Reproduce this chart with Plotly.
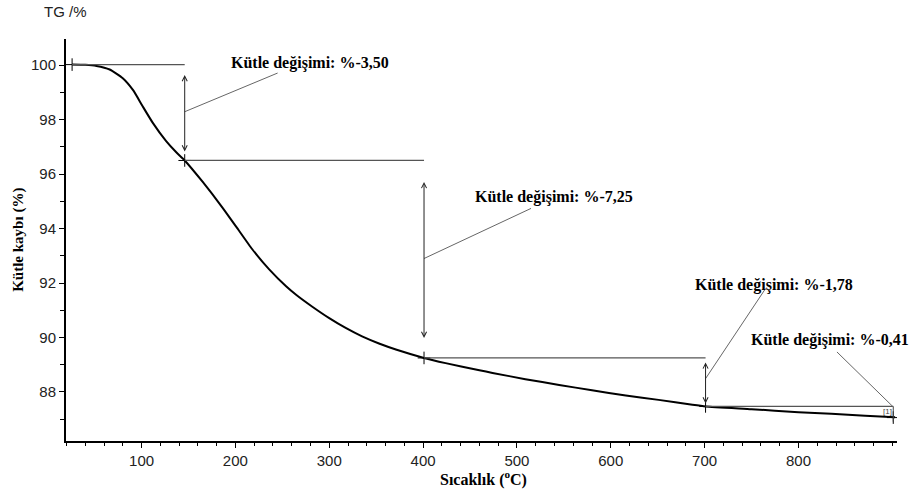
import plotly.graph_objects as go

# ---- data ----
temperature = [26, 40, 52, 66, 80, 91, 101, 112, 126, 137, 146, 165, 186, 201, 218,
               236, 254, 265, 282, 300, 318, 335, 353, 371, 401, 424, 460, 474, 509,
               545, 580, 616, 651, 687, 701, 750, 800, 835, 871, 903]
mass_pct = [100.02, 100.01, 99.97, 99.84, 99.52, 99.08, 98.50, 97.88, 97.22, 96.80,
            96.50, 95.72, 94.78, 94.06, 93.24, 92.50, 91.88, 91.56, 91.13, 90.71,
            90.34, 90.04, 89.78, 89.56, 89.25, 89.06, 88.80, 88.70, 88.47, 88.26,
            88.06, 87.87, 87.71, 87.53, 87.47, 87.37, 87.26, 87.20, 87.13, 87.07]

step_temps = [26, 146, 401, 701, 901]
step_mass = [100.02, 96.50, 89.25, 87.47, 87.06]
step_labels = ["Kütle değişimi: %-3,50", "Kütle değişimi: %-7,25",
               "Kütle değişimi: %-1,78", "Kütle değişimi: %-0,41"]

x_ticks = [100, 200, 300, 400, 500, 600, 700, 800]
y_ticks = [88, 90, 92, 94, 96, 98, 100]

# ---- layout constants (positions of labels / leaders) ----
label_pos = [(279, 100.07), (539, 95.17), (774, 91.92), (834, 89.90)]
leader_from = [(146, 98.29), (401, 92.90), (701, 88.49), (841, 89.47)]
leader_to = [(245, 99.71), (515, 94.74), (765, 91.80), (901, 87.45)]
arrow_standoff = [9, 20, 3]

serif = "Liberation Serif, Times New Roman, serif"
sans = "Liberation Sans, Arial, sans-serif"

fig = go.Figure()
fig.add_trace(go.Scatter(x=temperature, y=mass_pct, mode="lines",
                         line=dict(color="black", width=2, shape="spline", smoothing=0.5),
                         hoverinfo="skip", showlegend=False))
fig.add_trace(go.Scatter(x=step_temps, y=step_mass, mode="markers",
                         marker=dict(symbol="cross-thin", size=9,
                                     line=dict(color="black", width=1)),
                         hoverinfo="skip", showlegend=False))

shapes = []
annotations = []
guide = dict(color="#555555", width=1.2)
for i in range(4):
    shapes.append(dict(type="line", xref="x", yref="y",
                       x0=step_temps[i], x1=step_temps[i + 1],
                       y0=step_mass[i], y1=step_mass[i], line=guide))
    shapes.append(dict(type="line", xref="x", yref="y",
                       x0=leader_from[i][0], y0=leader_from[i][1],
                       x1=leader_to[i][0], y1=leader_to[i][1],
                       line=dict(color="#666666", width=1)))
    annotations.append(dict(x=label_pos[i][0], y=label_pos[i][1], xref="x", yref="y",
                            text="<b>" + step_labels[i] + "</b>", showarrow=False,
                            font=dict(family=serif, size=16, color="black"),
                            xanchor="center", yanchor="middle"))
    if i < 3:
        annotations.append(dict(x=step_temps[i + 1], y=step_mass[i + 1],
                                ax=step_temps[i + 1], ay=step_mass[i],
                                xref="x", yref="y", axref="x", ayref="y",
                                text="", showarrow=True, arrowside="end+start",
                                arrowhead=5, startarrowhead=5,
                                arrowsize=1, startarrowsize=1, arrowwidth=1,
                                arrowcolor="#222222",
                                standoff=arrow_standoff[i],
                                startstandoff=arrow_standoff[i]))

shapes.append(dict(type="line", xref="x", yref="y",
                   x0=step_temps[4], x1=step_temps[4],
                   y0=step_mass[3], y1=step_mass[4] - 0.15,
                   line=dict(color="#444444", width=1)))
annotations.append(dict(x=step_temps[4] - 6, y=step_mass[3] - 0.18, xref="x", yref="y",
                        text="[1]", showarrow=False,
                        font=dict(family=sans, size=8, color="#444444"),
                        xanchor="center", yanchor="middle"))

annotations.append(dict(x=-0.001, y=1.068, xref="paper", yref="paper", text="TG /%",
                        showarrow=False, font=dict(family=sans, size=15, color="#222222"),
                        xanchor="center", yanchor="middle"))
annotations.append(dict(x=-0.058, y=0.5, xref="paper", yref="paper",
                        text="<b>Kütle kaybı (%)</b>", textangle=-90, showarrow=False,
                        font=dict(family=serif, size=15, color="black"),
                        xanchor="center", yanchor="middle"))
annotations.append(dict(x=0.502, y=-0.094, xref="paper", yref="paper",
                        text="<b>Sıcaklık (<sup>o</sup>C)</b>", showarrow=False,
                        font=dict(family=serif, size=16, color="black"),
                        xanchor="center", yanchor="middle"))

fig.update_layout(
    width=914, height=495,
    margin=dict(l=66, r=17, t=39, b=54),
    paper_bgcolor="white", plot_bgcolor="white",
    shapes=shapes, annotations=annotations,
    font=dict(family=sans, size=15, color="#222222"),
    xaxis=dict(range=[19.5, 905], tickmode="array", tickvals=x_ticks,
               ticktext=[str(v) for v in x_ticks],
               showgrid=False, zeroline=False, showline=True,
               linecolor="black", linewidth=2, ticks="outside", ticklen=5,
               tickcolor="black", tickwidth=1,
               tickfont=dict(family=sans, size=15, color="#222222"),
               minor=dict(dtick=20, tick0=0, ticks="outside", ticklen=3,
                          tickcolor="black", showgrid=False)),
    yaxis=dict(range=[86.2, 100.96], tickmode="array", tickvals=y_ticks,
               ticktext=[str(v) for v in y_ticks],
               showgrid=False, zeroline=False, showline=True,
               linecolor="black", linewidth=2, ticks="outside", ticklen=5,
               tickcolor="black", tickwidth=1,
               tickfont=dict(family=sans, size=15, color="#222222"),
               minor=dict(dtick=1, tick0=0, ticks="outside", ticklen=4,
                          tickcolor="black", showgrid=False)),
)

fig.write_html("out.html")
